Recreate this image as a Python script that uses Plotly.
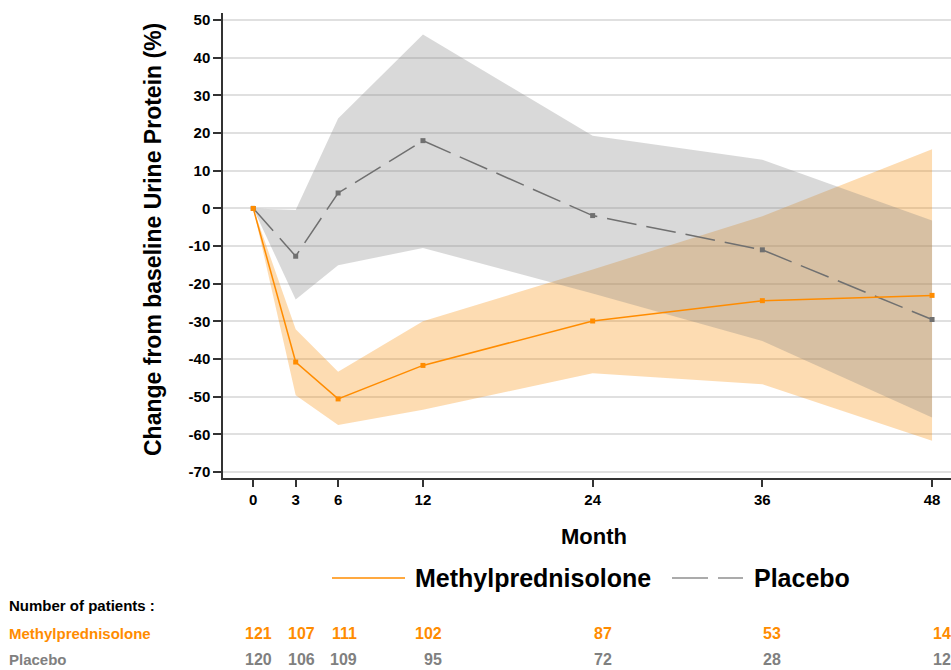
import plotly.graph_objects as go

months = [0, 3, 6, 12, 24, 36, 48]
tick_vals_y = list(range(-70, 51, 10))

mp_mean = [0, -40.8, -50.6, -41.7, -29.9, -24.5, -23.1]
mp_upper = [0, -32.1, -43.4, -30.0, -16.2, -2.1, 15.7]
mp_lower = [0, -49.6, -57.5, -53.5, -43.8, -46.7, -61.7]

pl_mean = [0, -12.7, 4.1, 18.0, -1.9, -11.0, -29.5]
pl_upper = [0, -0.4, 23.9, 46.2, 19.3, 12.9, -3.2]
pl_lower = [0, -24.2, -15.1, -10.5, -22.6, -35.2, -55.5]

n_mp = [121, 107, 111, 102, 87, 53, 14]
n_pl = [120, 106, 109, 95, 72, 28, 12]

ORANGE = "#FF8C00"
GREY = "#707070"
FONT = "Liberation Sans, Arial, sans-serif"

W, H = 951, 670
ML, MR, MT, MB = 223, 0, 13, 192
PW = W - ML - MR
PH = H - MT - MB


def px(x):
    return (x - ML) / PW


def py(y):
    return (H - MB - y) / PH


fig = go.Figure()

fig.add_trace(go.Scatter(
    x=months + months[::-1], y=mp_upper + mp_lower[::-1],
    fill="toself", fillcolor="rgba(248,138,0,0.3)", line=dict(width=0),
    mode="lines", hoverinfo="skip", showlegend=False))
fig.add_trace(go.Scatter(
    x=months + months[::-1], y=pl_upper + pl_lower[::-1],
    fill="toself", fillcolor="rgba(128,128,128,0.3)", line=dict(width=0),
    mode="lines", hoverinfo="skip", showlegend=False))

fig.add_trace(go.Scatter(
    x=months, y=pl_mean, mode="lines+markers", name="Placebo",
    line=dict(color=GREY, width=1.5, dash="30px,10px"),
    marker=dict(symbol="square", size=5, color=GREY), showlegend=False))
fig.add_trace(go.Scatter(
    x=months, y=mp_mean, mode="lines+markers", name="Methylprednisolone",
    line=dict(color=ORANGE, width=1.5),
    marker=dict(symbol="square", size=5, color=ORANGE), showlegend=False))

annotations = []
# axis titles
annotations.append(dict(text="<b>Change from baseline Urine Protein (%)</b>",
                        xref="paper", yref="paper", x=px(153), y=py(240),
                        textangle=-90, showarrow=False,
                        font=dict(size=23, color="black", family=FONT),
                        xanchor="center", yanchor="middle"))
annotations.append(dict(text="<b>Month</b>", xref="paper", yref="paper",
                        x=px(594), y=py(536), showarrow=False,
                        font=dict(size=22, color="black", family=FONT),
                        xanchor="center", yanchor="middle"))
# legend texts
annotations.append(dict(text="<b>Methylprednisolone</b>", xref="paper", yref="paper",
                        x=px(413), y=py(578), showarrow=False,
                        font=dict(size=25, color="black", family=FONT),
                        xanchor="left", yanchor="middle"))
annotations.append(dict(text="<b>Placebo</b>", xref="paper", yref="paper",
                        x=px(752), y=py(578), showarrow=False,
                        font=dict(size=25, color="black", family=FONT),
                        xanchor="left", yanchor="middle"))
# table
annotations.append(dict(text="<b>Number of patients :</b>", xref="paper", yref="paper",
                        x=px(7), y=py(605), showarrow=False,
                        font=dict(size=15, color="black", family=FONT),
                        xanchor="left", yanchor="middle"))
annotations.append(dict(text="<b>Methylprednisolone</b>", xref="paper", yref="paper",
                        x=px(7), y=py(633), showarrow=False,
                        font=dict(size=15, color=ORANGE, family=FONT),
                        xanchor="left", yanchor="middle"))
annotations.append(dict(text="<b>Placebo</b>", xref="paper", yref="paper",
                        x=px(7), y=py(659), showarrow=False,
                        font=dict(size=15, color="#808080", family=FONT),
                        xanchor="left", yanchor="middle"))
for m, a, b in zip(months, n_mp, n_pl):
    annotations.append(dict(text=f"<b>{a}</b>", xref="x", yref="paper",
                            x=m, y=py(633), xshift=21, showarrow=False,
                            font=dict(size=16, color=ORANGE, family=FONT),
                            xanchor="right", yanchor="middle"))
    annotations.append(dict(text=f"<b>{b}</b>", xref="x", yref="paper",
                            x=m, y=py(659), xshift=21, showarrow=False,
                            font=dict(size=16, color="#808080", family=FONT),
                            xanchor="right", yanchor="middle"))

shapes = [
    dict(type="line", xref="paper", yref="paper", x0=px(332), x1=px(405),
         y0=py(578), y1=py(578), line=dict(color=ORANGE, width=1.5)),
    dict(type="line", xref="paper", yref="paper", x0=px(672), x1=px(743),
         y0=py(578), y1=py(578), line=dict(color="#909090", width=1.5, dash="36px,10px")),
]

fig.update_layout(
    width=W, height=H,
    margin=dict(l=ML, r=MR, t=MT, b=MB, autoexpand=False),
    plot_bgcolor="white", paper_bgcolor="white",
    font=dict(family=FONT, color="black"),
    annotations=annotations, shapes=shapes,
    showlegend=False,
)
fig.update_xaxes(
    range=[-2.14, 49.34], tickvals=months, ticktext=[f"<b>{m}</b>" for m in months],
    showgrid=False, zeroline=False, showline=True, linecolor="#333333", linewidth=1.5,
    ticks="outside", ticklen=7, tickwidth=1.5, tickcolor="#333333",
    tickfont=dict(size=15, family=FONT, color="black"), fixedrange=True,
)
fig.update_yaxes(
    range=[-71.6, 51.9], tickvals=tick_vals_y, ticktext=[f"<b>{v}</b>" for v in tick_vals_y],
    showgrid=True, gridcolor="#E0E0E0", gridwidth=1.5, zeroline=False,
    showline=True, linecolor="#333333", linewidth=1.5,
    ticks="outside", ticklen=8, tickwidth=1.5, tickcolor="#333333",
    tickfont=dict(size=15, family=FONT, color="black"), fixedrange=True,
)

fig.write_html("out.html")
